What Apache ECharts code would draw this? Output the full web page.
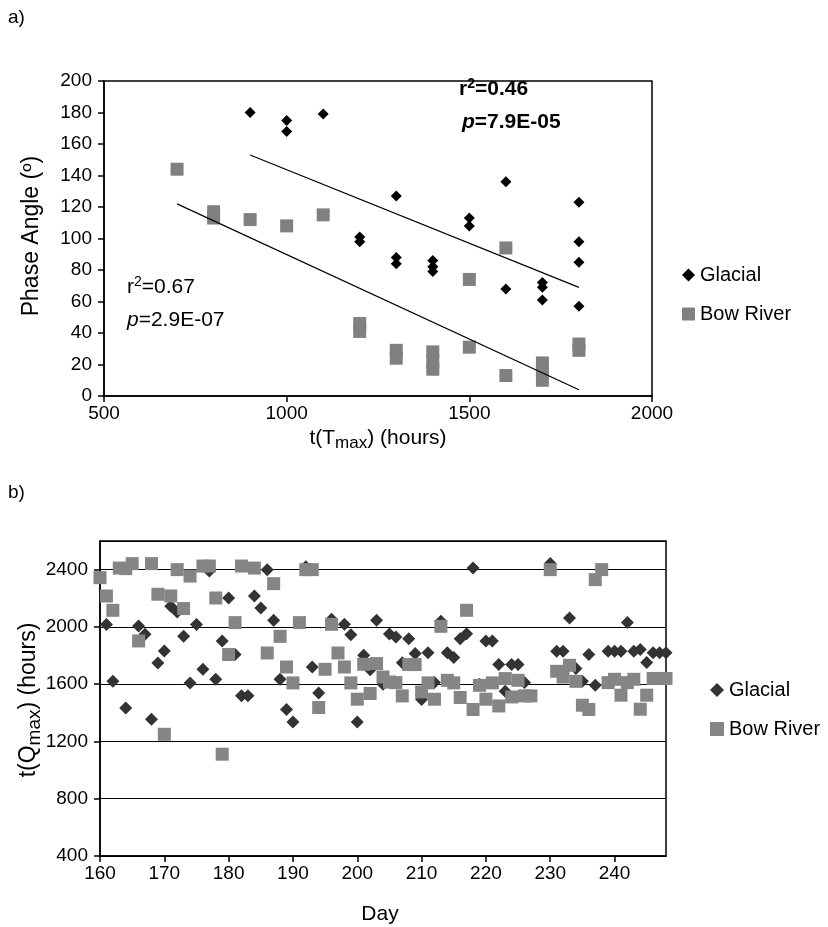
<!DOCTYPE html>
<html>
<head>
<meta charset="utf-8">
<script src="https://cdn.jsdelivr.net/npm/echarts@6/dist/echarts.min.js"></script>
<style>
  html, body { margin: 0; padding: 0; background: #fff; }
  #chart { width: 828px; height: 927px; }
</style>
</head>
<body>
<div id="chart"></div>
<script>
// a) phase angle vs t(Tmax)
var glacialA = [[900, 180], [1000, 175], [1000, 168], [1100, 179], [1200, 101], [1200, 98],
    [1300, 127], [1300, 88], [1300, 84], [1400, 86], [1400, 82], [1400, 79], [1500, 113], [1500, 108],
    [1600, 136], [1600, 68], [1700, 72], [1700, 69], [1700, 61], [1800, 123], [1800, 98], [1800, 85], [1800, 57]];
var bowA = [[700, 144], [800, 117], [800, 113], [900, 112], [1000, 108], [1100, 115], [1200, 46], [1200, 41],
    [1300, 29], [1300, 24], [1400, 28], [1400, 22], [1400, 17], [1500, 31], [1500, 74], [1600, 94], [1600, 13],
    [1700, 21], [1700, 16], [1700, 10], [1800, 33], [1800, 29]];
var glacialFit = [[900, 153], [1800, 69]];
var bowFit = [[700, 122], [1800, 4]];

// b) t(Qmax) vs day
var glacialB = [[161, 2016], [162, 1620], [164, 1434], [166, 2006], [167, 1948], [168, 1355], [169, 1748],
    [170, 1832], [171, 2144], [172, 2104], [173, 1934], [174, 1609], [175, 2016], [176, 1704], [177, 2390],
    [178, 1634], [179, 1902], [180, 2202], [181, 1807], [182, 1520], [183, 1520], [184, 2216], [185, 2132],
    [186, 2400], [187, 2046], [188, 1634], [189, 1423], [190, 1336], [192, 2420], [193, 1720], [194, 1539],
    [196, 2053], [198, 2018], [199, 1946], [200, 1336], [201, 1802], [202, 1700], [203, 2046], [204, 1600],
    [205, 1950], [206, 1930], [207, 1750], [208, 1918], [209, 1814], [210, 1493], [211, 1820], [212, 1611],
    [213, 2039], [214, 1820], [215, 1786], [216, 1918], [217, 1953], [218, 2411], [219, 1600], [220, 1902],
    [221, 1902], [222, 1737], [223, 1550], [224, 1737], [225, 1737], [226, 1611], [230, 2442], [231, 1830],
    [232, 1830], [233, 2062], [234, 1709], [235, 1620], [236, 1807], [237, 1592], [239, 1830], [240, 1830],
    [241, 1830], [242, 2030], [243, 1830], [244, 1843], [245, 1751], [246, 1820], [247, 1820], [248, 1820]];
var bowB = [[160, 2344], [161, 2216], [162, 2116], [163, 2411], [164, 2407], [165, 2442], [166, 1902],
    [168, 2442], [169, 2228], [170, 1250], [171, 2216], [172, 2400], [173, 2128], [174, 2355], [176, 2425],
    [177, 2425], [178, 2202], [179, 1111], [180, 1807], [181, 2030], [182, 2425], [184, 2411], [186, 1818],
    [187, 2302], [188, 1934], [189, 1720], [190, 1609], [191, 2030], [192, 2400], [193, 2400], [194, 1437],
    [195, 1704], [196, 2018], [197, 1818], [198, 1720], [199, 1609], [200, 1495], [201, 1739], [202, 1535],
    [203, 1744], [204, 1650], [205, 1615], [206, 1611], [207, 1518], [208, 1737], [209, 1737], [210, 1546],
    [211, 1609], [212, 1495], [213, 2004], [214, 1627], [215, 1609], [216, 1507], [217, 2116], [218, 1423],
    [219, 1592], [220, 1495], [221, 1609], [222, 1448], [223, 1639], [224, 1511], [225, 1627], [226, 1518],
    [227, 1518], [230, 2400], [231, 1690], [232, 1650], [233, 1732], [234, 1620], [235, 1453], [236, 1423],
    [237, 2330], [238, 2400], [239, 1611], [240, 1634], [241, 1523], [242, 1611], [243, 1634], [244, 1425],
    [245, 1523], [246, 1640], [247, 1640], [248, 1640]];

var FONT = 'Liberation Sans';
var FS = 19;      // tick labels
var FT = 21;      // horizontal titles
var FR = 23;      // rotated titles
var FN = 21;      // fit statistics

var chart = echarts.init(document.getElementById('chart'));

function axisCommon(margin) {
    return {
        axisLine: { show: true, onZero: false, lineStyle: { color: '#000', width: 1.5 } },
        axisTick: { show: true, length: 6, lineStyle: { color: '#000', width: 1.5 } },
        axisLabel: { color: '#000', fontFamily: FONT, fontSize: FS, margin: margin,
                     formatter: function (v) { return String(v); } },
        splitLine: { show: false }
    };
}

var xA = axisCommon(8), yA = axisCommon(12), xB = axisCommon(8), yB = axisCommon(12);
Object.assign(xA, { gridIndex: 0, type: 'value', min: 500, max: 2000, interval: 500 });
Object.assign(yA, { gridIndex: 0, type: 'value', min: 0, max: 200, interval: 20 });
Object.assign(xB, { gridIndex: 1, type: 'value', min: 160, max: 248, interval: 10 });
xB.axisLabel.showMaxLabel = false;
Object.assign(yB, { gridIndex: 1, type: 'value', min: 400, max: 2600, interval: 400 });
yB.axisLabel.showMaxLabel = false;
yB.splitLine = { show: true, lineStyle: { color: '#000', width: 1.2 } };

var txt = { fontFamily: FONT, fontSize: FS, fill: '#000' };
var legendText = { fontFamily: FONT, fontSize: 20, color: '#000' };

var option = {
    animation: false,
    backgroundColor: '#fff',
    grid: [
        { left: 104, top: 81, width: 548, height: 315, show: true, borderColor: '#000', borderWidth: 1.5 },
        { left: 100, top: 541, width: 566, height: 315, show: true, borderColor: '#000', borderWidth: 1.5 }
    ],
    xAxis: [xA, xB],
    yAxis: [yA, yB],
    legend: [{
        orient: 'vertical', left: 677, top: 260, itemWidth: 13, itemHeight: 13, itemGap: 19,
        textStyle: legendText,
        data: [{ name: 'Glacial', icon: 'diamond' }, { name: 'Bow River', icon: 'rect' }]
    }, {
        orient: 'vertical', left: 705, top: 675, itemWidth: 14, itemHeight: 14, itemGap: 19,
        textStyle: legendText,
        formatter: function (n) { return n.replace(' (b)', ''); },
        data: [{ name: 'Glacial (b)', icon: 'diamond' }, { name: 'Bow River (b)', icon: 'rect' }]
    }],
    series: [
        { name: 'Bow River', type: 'scatter', xAxisIndex: 0, yAxisIndex: 0, symbol: 'rect', symbolSize: 13,
          itemStyle: { color: '#808080', opacity: 1 }, data: bowA, z: 2 },
        { name: 'Glacial', type: 'scatter', xAxisIndex: 0, yAxisIndex: 0, symbol: 'diamond', symbolSize: 11,
          itemStyle: { color: '#000', opacity: 1 }, data: glacialA, z: 3 },
        { type: 'line', xAxisIndex: 0, yAxisIndex: 0, data: glacialFit, symbol: 'none',
          lineStyle: { color: '#000', width: 1.2 }, z: 4, silent: true },
        { type: 'line', xAxisIndex: 0, yAxisIndex: 0, data: bowFit, symbol: 'none',
          lineStyle: { color: '#000', width: 1.2 }, z: 4, silent: true },
        { name: 'Glacial (b)', type: 'scatter', xAxisIndex: 1, yAxisIndex: 1, symbol: 'diamond', symbolSize: 13,
          itemStyle: { color: '#333', opacity: 1 }, data: glacialB, z: 2 },
        { name: 'Bow River (b)', type: 'scatter', xAxisIndex: 1, yAxisIndex: 1, symbol: 'rect', symbolSize: 13,
          itemStyle: { color: '#858585', opacity: 1 }, data: bowB, z: 3 }
    ],
    graphic: [
        { type: 'text', left: 8, top: 8, style: Object.assign({ text: 'a)' }, txt) },
        { type: 'text', left: 8, top: 483, style: Object.assign({ text: 'b)' }, txt) },
        // axis titles
        { type: 'text', x: 32, y: 236, rotation: Math.PI / 2,
          style: Object.assign({ text: 'Phase Angle (º)', align: 'center', verticalAlign: 'middle' }, txt, { fontSize: FR }) },
        { type: 'text', x: 378, y: 438,
          style: { text: '{n|t(T}{s|max}{n|) (hours)}', align: 'center', verticalAlign: 'middle',
                   rich: { n: { fontFamily: FONT, fontSize: FT, fill: '#000' },
                           s: { fontFamily: FONT, fontSize: 17, fill: '#000', padding: [11, 0, 0, 0] } } } },
        { type: 'text', x: 29, y: 700, rotation: Math.PI / 2,
          style: { text: '{n|t(Q}{s|max}{n|) (hours)}', align: 'center', verticalAlign: 'middle',
                   rich: { n: { fontFamily: FONT, fontSize: FR, fill: '#000' },
                           s: { fontFamily: FONT, fontSize: 19, fill: '#000', padding: [11, 0, 0, 0] } } } },
        { type: 'text', x: 380, y: 914,
          style: Object.assign({ text: 'Day', align: 'center', verticalAlign: 'middle' }, txt, { fontSize: FT }) },
        // fit statistics
        { type: 'text', x: 459, y: 89,
          style: { text: '{b|r}{sup|2}{b|=0.46}', verticalAlign: 'middle',
                   rich: { b: { fontFamily: FONT, fontSize: FN, fontWeight: 'bold', fill: '#000' },
                           sup: { fontFamily: FONT, fontSize: 14, fontWeight: 'bold', fill: '#000', padding: [0, 0, 10, 0] } } } },
        { type: 'text', x: 462, y: 122,
          style: { text: '{i|p}{b|=7.9E-05}', verticalAlign: 'middle',
                   rich: { b: { fontFamily: FONT, fontSize: FN, fontWeight: 'bold', fill: '#000' },
                           i: { fontFamily: FONT, fontSize: FN, fontWeight: 'bold', fontStyle: 'italic', fill: '#000' } } } },
        { type: 'text', x: 127, y: 287,
          style: { text: '{n|r}{sup|2}{n|=0.67}', verticalAlign: 'middle',
                   rich: { n: { fontFamily: FONT, fontSize: FN, fill: '#000' },
                           sup: { fontFamily: FONT, fontSize: 14, fill: '#000', padding: [0, 0, 10, 0] } } } },
        { type: 'text', x: 127, y: 320,
          style: { text: '{i|p}{n|=2.9E-07}', verticalAlign: 'middle',
                   rich: { n: { fontFamily: FONT, fontSize: FN, fill: '#000' },
                           i: { fontFamily: FONT, fontSize: FN, fontStyle: 'italic', fill: '#000' } } } }
    ]
};
chart.setOption(option);
</script>
</body>
</html>
